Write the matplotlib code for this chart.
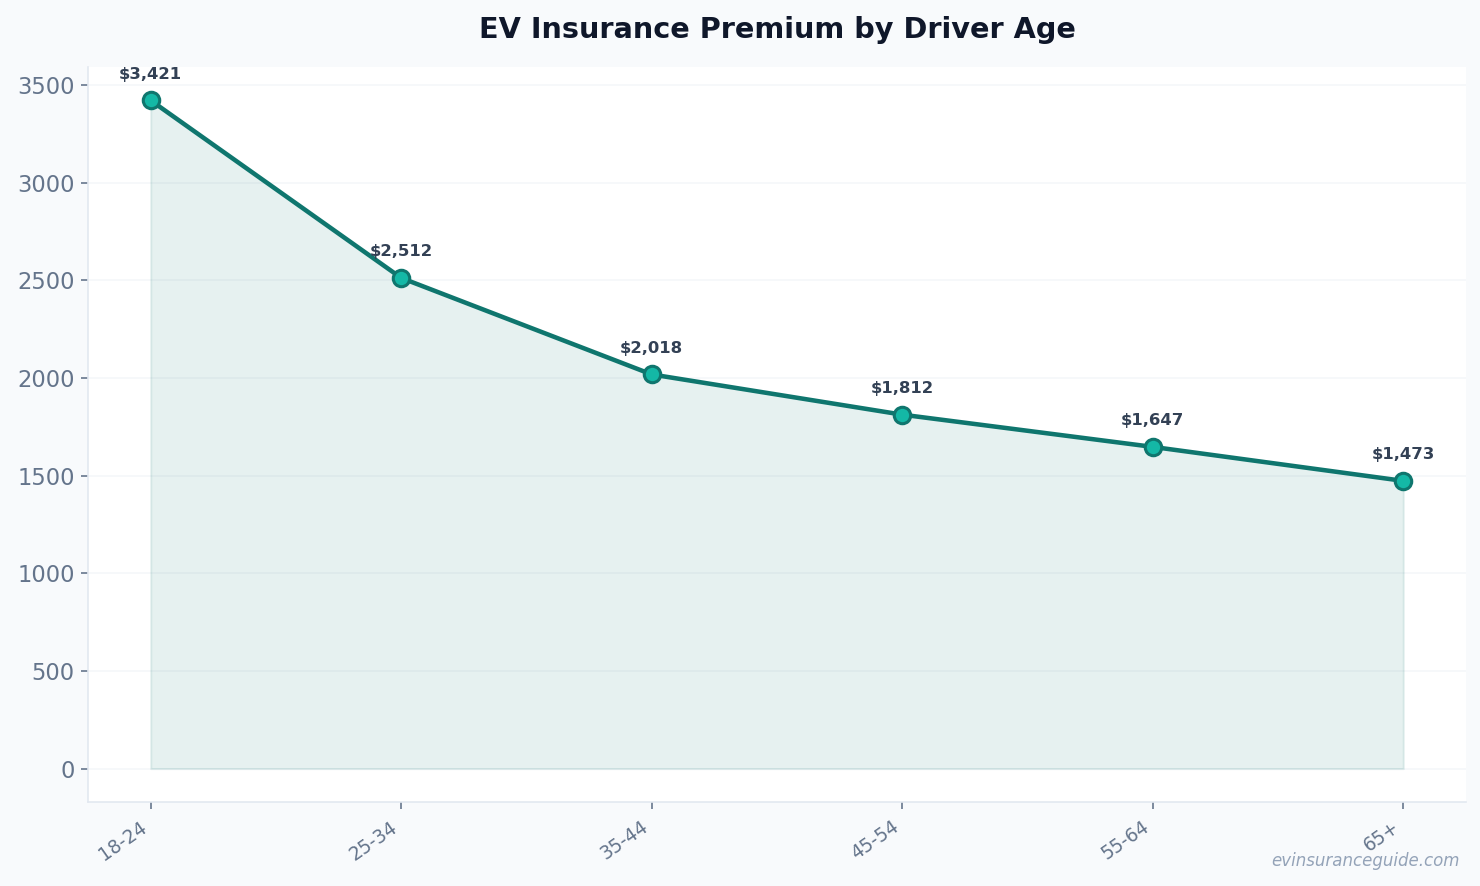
import matplotlib.pyplot as plt

ages = ['18-24', '25-34', '35-44', '45-54', '55-64', '65+']
premiums = [3421, 2512, 2018, 1812, 1647, 1473]

line_color = '#0f766e'
marker_color = '#14b8a6'
text_dark = '#334155'
tick_color = '#64748b'

fig, ax = plt.subplots(figsize=(10, 886 / 148), dpi=148)
fig.patch.set_facecolor('#f8fafc')
ax.set_facecolor('white')
fig.subplots_adjust(left=0.0595, right=0.9905, top=0.9244, bottom=0.0948)

x = list(range(len(ages)))
ax.fill_between(x, premiums, 0, facecolor=line_color, alpha=0.1,
                edgecolor='#0f766e', linewidth=1)
ax.plot(x, premiums, color=line_color, linewidth=2.2, marker='o',
        markersize=8, markerfacecolor=marker_color, markeredgecolor=line_color,
        markeredgewidth=1.5, zorder=3)

# value labels above the points
for xi, v in zip(x, premiums):
    ax.annotate(f'${v:,}', (xi, v), xytext=(0, 9), textcoords='offset points',
                ha='center', va='bottom', fontsize=8, fontweight='bold',
                color=text_dark)

ax.set_xticks(x)
ax.set_xticklabels(ages, rotation=35, ha='right')
ax.tick_params(axis='x', labelsize=9, colors=tick_color, length=3.5, pad=4)
ax.tick_params(axis='y', labelsize=11, colors=tick_color, length=3.5, pad=3)
ax.set_yticks(range(0, 3501, 500))

ax.grid(axis='y', color='#f5f7fa', linewidth=0.8)
ax.set_axisbelow(True)
for side in ['top', 'right']:
    ax.spines[side].set_visible(False)
for side in ['left', 'bottom']:
    ax.spines[side].set_color('#e2e8f0')

ax.set_title('EV Insurance Premium by Driver Age', fontsize=14,
             fontweight='bold', color='#0f172a', pad=14)

fig.text(0.986, 0.018, 'evinsuranceguide.com', ha='right', va='bottom',
         fontsize=8.1, style='italic', color='#94a3b8')

fig.savefig('out.png', dpi=148, facecolor=fig.get_facecolor())
